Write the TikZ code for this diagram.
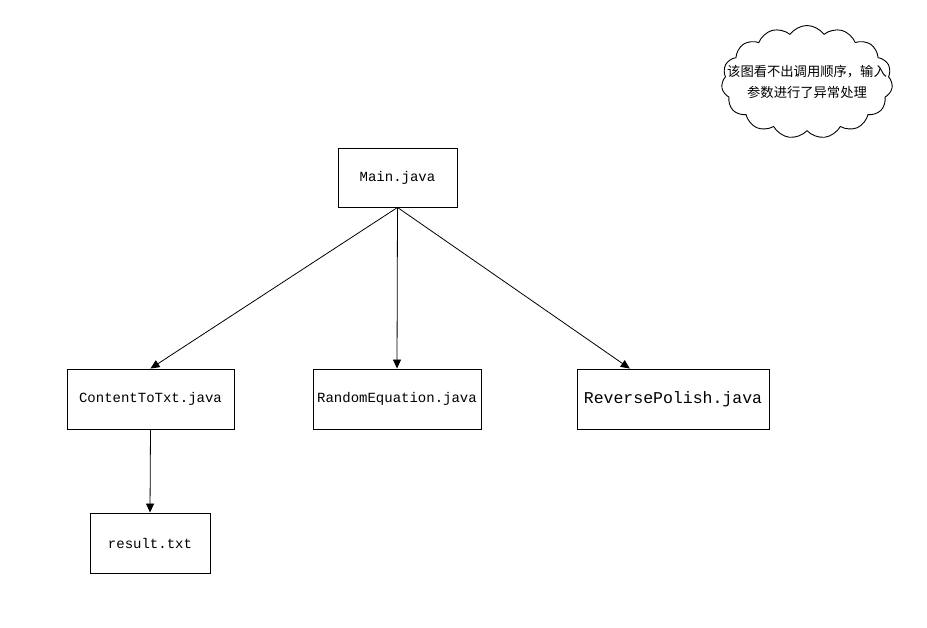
\documentclass[tikz,border=0pt]{standalone}
\usepackage{fontspec}
\setmonofont{Liberation Mono}
\newfontfamily\cjk{Noto Sans CJK SC}
\usetikzlibrary{shapes.symbols,arrows.meta,calc}
\begin{document}
\begin{tikzpicture}[x=1pt,y=-1pt,
  box/.style={draw,line width=0.9pt,inner sep=0pt,font=\ttfamily\fontsize{14}{16}\selectfont},
  conn/.style={line width=0.8pt,-{Triangle[length=9pt,width=8pt]}}]
\useasboundingbox (0,0) rectangle (927,628);
\node[box,minimum width=119pt,minimum height=59pt] (main) at (397.5,177.5) {Main.java};
\node[box,minimum width=167pt,minimum height=60pt] (ct) at (150.5,399) {ContentToTxt.java};
\node[box,minimum width=168pt,minimum height=60pt] (re) at (397,399) {RandomEquation.java};
\node[box,minimum width=192pt,minimum height=60pt,font=\ttfamily\fontsize{16.5}{18}\selectfont] (rp) at (673,399) {ReversePolish.java};
\node[box,minimum width=120pt,minimum height=60pt] (res) at (150,543) {result.txt};
\node[cloud,draw,line width=0.9pt,cloud puffs=15,cloud puff arc=110,cloud ignores aspect,minimum width=171pt,minimum height=113pt,inner sep=0pt] (cl) at (807,82) {};
\node[align=center,inner sep=0pt,font=\cjk\fontsize{13.3}{21}\selectfont] (cltext) at (cl.center) {该图看不出调用顺序，输入\\参数进行了异常处理};
\coordinate (rpin) at ($(rp.north west)!0.276!(rp.north east)$);
\draw[conn] (main.south) -- (ct.north);
\draw[conn] (main.south) -- (re.north);
\draw[conn] (main.south) -- (rpin);
\draw[conn] (ct.south) -- (res.north);
\end{tikzpicture}
\end{document}
